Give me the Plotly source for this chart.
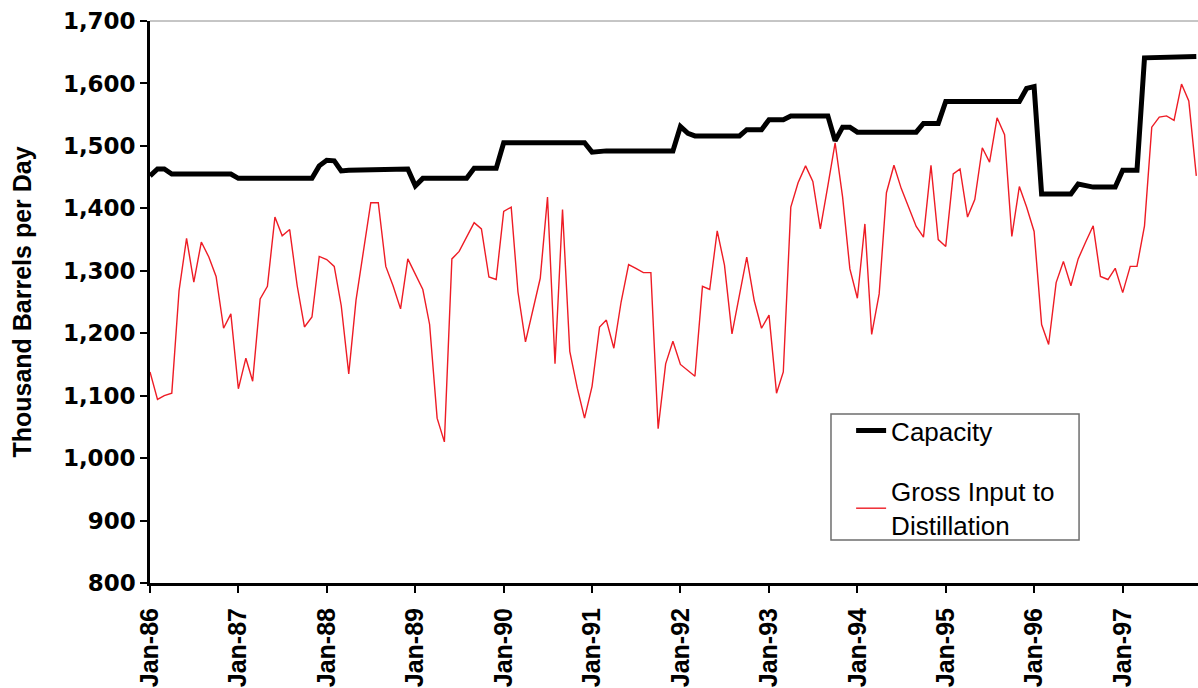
import pandas as pd
import plotly.graph_objects as go

# Monthly series, Jan-86 .. Nov-97
months = pd.date_range("1986-01-01", periods=143, freq="MS")

capacity = [
    1452, 1463, 1463, 1455, 1455, 1455, 1455, 1455, 1455, 1455, 1455, 1455,  # 1986
    1448, 1448, 1448, 1448, 1448, 1448, 1448, 1448, 1448, 1448, 1448, 1468,  # 1987
    1477, 1476, 1460, 1461, 1461, 1461, 1461, 1461, 1461, 1461, 1463, 1463,  # 1988
    1436, 1448, 1448, 1448, 1448, 1448, 1448, 1448, 1464, 1464, 1464, 1464,  # 1989
    1505, 1505, 1505, 1505, 1505, 1505, 1505, 1505, 1505, 1505, 1505, 1505,  # 1990
    1490, 1492, 1492, 1492, 1492, 1492, 1492, 1492, 1492, 1492, 1492, 1492,  # 1991
    1531, 1520, 1516, 1516, 1516, 1516, 1516, 1516, 1516, 1526, 1526, 1526,  # 1992
    1542, 1542, 1542, 1548, 1548, 1548, 1548, 1548, 1548, 1508, 1530, 1530,  # 1993
    1522, 1522, 1522, 1522, 1522, 1522, 1522, 1522, 1522, 1536, 1536, 1536,  # 1994
    1571, 1571, 1571, 1571, 1571, 1571, 1571, 1571, 1571, 1571, 1571, 1592,  # 1995
    1595, 1423, 1423, 1423, 1423, 1423, 1439, 1436, 1434, 1434, 1434, 1434,  # 1996
    1461, 1461, 1461, 1641, 1641, 1641, 1641, 1641, 1641, 1643, 1643,        # 1997
]

gross_input = [
    1138, 1094, 1100, 1104, 1268, 1352, 1282, 1346, 1322, 1291, 1208, 1231,  # 1986
    1111, 1160, 1123, 1255, 1275, 1386, 1356, 1366, 1276, 1210, 1226, 1323,  # 1987
    1318, 1307, 1244, 1135, 1253, 1332, 1409, 1409, 1307, 1276, 1239, 1319,  # 1988
    1295, 1270, 1214, 1064, 1026, 1319, 1331, 1354, 1377, 1367, 1290, 1286,  # 1989
    1395, 1402, 1266, 1186, 1237, 1288, 1418, 1151, 1398, 1171, 1112, 1064,  # 1990
    1115, 1210, 1221, 1176, 1250, 1310, 1304, 1297, 1297, 1047, 1151, 1187,  # 1991
    1150, 1140, 1131, 1275, 1270, 1364, 1309, 1199, 1262, 1322, 1252, 1208,  # 1992
    1229, 1104, 1138, 1402, 1441, 1468, 1443, 1367, 1436, 1505, 1418, 1303,  # 1993
    1256, 1375, 1198, 1263, 1425, 1469, 1432, 1402, 1371, 1354, 1469, 1350,  # 1994
    1339, 1455, 1463, 1386, 1414, 1497, 1474, 1545, 1518, 1355, 1435, 1402,  # 1995
    1363, 1214, 1182, 1281, 1315, 1276, 1319, 1346, 1372, 1291, 1286, 1304,  # 1996
    1265, 1307, 1307, 1372, 1530, 1546, 1548, 1541, 1599, 1572, 1452,        # 1997
]

y_ticks = [800, 900, 1000, 1100, 1200, 1300, 1400, 1500, 1600, 1700]
y_ticklabels = ["800", "900", "1,000", "1,100", "1,200", "1,300", "1,400", "1,500", "1,600", "1,700"]

fig = go.Figure()
fig.add_trace(go.Scatter(
    x=months, y=capacity, mode="lines", name="Capacity",
    line=dict(color="#000000", width=5), legendgroup="a",
))
fig.add_trace(go.Scatter(
    x=months, y=gross_input, mode="lines", name="Gross Input to<br>Distillation",
    line=dict(color="#EE1C25", width=1.4), legendgroup="b",
))

# top border of plot area
fig.add_shape(type="line", xref="paper", yref="paper", x0=0, x1=1, y0=1, y1=1,
              line=dict(color="#8c8c8c", width=1))
# legend frame
fig.add_shape(type="rect", xref="paper", yref="paper",
              x0=0.6498, x1=0.8865, y0=0.0765, y1=0.3007,
              line=dict(color="#6e6e6e", width=1.5), fillcolor="rgba(0,0,0,0)", layer="above")

fig.update_layout(
    width=1198, height=688,
    margin=dict(l=150, r=0, t=21, b=105),
    paper_bgcolor="white", plot_bgcolor="white",
    font=dict(family="Liberation Sans, Arial, sans-serif", color="black"),
    showlegend=True,
    legend=dict(
        x=0.669, y=0.313, xanchor="left", yanchor="top",
        borderwidth=0, bgcolor="rgba(0,0,0,0)",
        font=dict(size=26, family="Liberation Sans, Arial, sans-serif", color="black"),
        itemwidth=30, tracegroupgap=24, traceorder="grouped",
    ),
    xaxis=dict(
        type="date",
        range=["1986-01-01", "1997-11-08"],
        tick0="1986-01-01", dtick="M12", tickformat="%b-%y",
        tickangle=-90,
        ticks="outside", ticklen=7, tickwidth=2, tickcolor="black",
        ticklabelstandoff=5,
        showline=True, linecolor="black", linewidth=3,
        showgrid=False, zeroline=False,
        tickfont=dict(size=25, family="Liberation Sans, Arial, sans-serif", color="black", weight="bold"),
        automargin=False,
    ),
    yaxis=dict(
        range=[800, 1700],
        tickvals=y_ticks, ticktext=y_ticklabels,
        ticks="outside", ticklen=7, tickwidth=2, tickcolor="black",
        showline=True, linecolor="black", linewidth=2.5,
        showgrid=False, zeroline=False,
        tickfont=dict(size=23, family="DejaVu Sans, sans-serif", color="black", weight="bold"),
        title=dict(text="Thousand Barrels per Day", standoff=25,
                   font=dict(size=25, family="Liberation Sans, Arial, sans-serif", color="black", weight="bold")),
        automargin=False,
    ),
)

fig.write_html("out.html", default_width="1198px", default_height="688px",
               config={"displayModeBar": False},
               post_script="document.body.style.margin='0';document.body.style.overflow='hidden';")
